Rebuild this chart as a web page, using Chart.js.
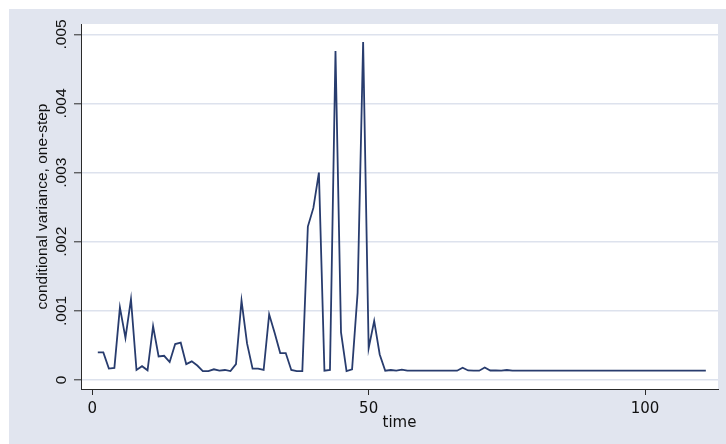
<!DOCTYPE html>
<html>
<head>
<meta charset="utf-8">
<title>Variância condicional</title>
<script src="https://cdn.jsdelivr.net/npm/chart.js@4/dist/chart.umd.min.js"></script>
<style>
    html, body { margin: 0; padding: 0; background: #ffffff; }
    #painel { width: 726px; height: 444px; }
</style>
</head>
<body>
<div id="painel"><canvas id="graficoVariancia" width="726" height="444"></canvas></div>
<script>
// --- DADOS ---
const TEMPO_INICIAL = 1;
const VARIANCIA = [
    .000400, .000400, .000165, .000175, .001050, .000610, .001170, .000145, .000200, .000140,
    .000780, .000340, .000350, .000260, .000520, .000540, .000230, .000270, .000210, .000130,
    .000130, .000155, .000135, .000145, .000130, .000230, .001150, .000530, .000165, .000165,
    .000145, .000950, .000680, .000390, .000390, .000145, .000130, .000130, .002220, .002490,
    .003000, .000135, .000145, .004760, .000690, .000130, .000155, .001260, .004890, .000460,
    .000855, .000370, .000135, .000145, .000135, .000150, .000135, .000135, .000135, .000135,
    .000135, .000135, .000135, .000135, .000135, .000135, .000178, .000138, .000135, .000135,
    .000180, .000138, .000140, .000135, .000145, .000135, .000135, .000135, .000135, .000135,
    .000135, .000135, .000135, .000135, .000135, .000135, .000135, .000135, .000135, .000135,
    .000135, .000135, .000135, .000135, .000135, .000135, .000135, .000135, .000135, .000135,
    .000135, .000135, .000135, .000135, .000135, .000135, .000135, .000135, .000135, .000135,
    .000135
];
const TICKS_X = [0, 50, 100];
const TICKS_Y = [0, .001, .002, .003, .004, .005];
const ROTULOS_Y = ['0', '.001', '.002', '.003', '.004', '.005'];
const TITULO_X = 'time';
const TITULO_Y = 'conditional variance, one-step';

// --- CORES E FONTES ---
const COR_FUNDO = '#e1e5ef';
const COR_LINHA = '#283c6e';
const COR_GRADE = '#dde2ed';
const COR_EIXO = '#2a2a2a';
const COR_TEXTO = '#111111';
const FONTE_Y = 'Liberation Sans, Arial, sans-serif';
const FONTE_X = 'DejaVu Sans, sans-serif'; // mais larga, parecida com o texto esticado do original

// fundo estilo Stata: moldura cinza-azulada e área de plotagem branca
const pluginFundo = {
    id: 'fundo',
    beforeDraw(chart) {
        const { ctx, chartArea } = chart;
        ctx.save();
        ctx.fillStyle = '#ffffff';
        ctx.fillRect(0, 0, chart.width, chart.height);
        ctx.fillStyle = COR_FUNDO;
        ctx.fillRect(9, 9, chart.width - 9, chart.height - 9);
        ctx.fillStyle = '#ffffff';
        ctx.fillRect(chartArea.left, chartArea.top, chartArea.right - chartArea.left, chartArea.bottom - chartArea.top);
        ctx.restore();
    }
};

function renderizarGrafico() {
    const pontos = VARIANCIA.map((v, i) => ({ x: TEMPO_INICIAL + i, y: v }));
    const ctx = document.getElementById('graficoVariancia').getContext('2d');

    new Chart(ctx, {
        type: 'line',
        data: {
            datasets: [{
                data: pontos,
                borderColor: COR_LINHA,
                borderWidth: 1.8,
                pointRadius: 0,
                tension: 0,
                fill: false
            }]
        },
        options: {
            responsive: false,
            animation: false,
            devicePixelRatio: 1,
            layout: { padding: { top: 24, right: 8, left: 0, bottom: 0 } },
            plugins: {
                legend: { display: false },
                tooltip: { enabled: false }
            },
            scales: {
                x: {
                    type: 'linear',
                    min: -2.04,
                    max: 113.2,
                    afterBuildTicks: s => { s.ticks = TICKS_X.map(v => ({ value: v })); },
                    afterFit: s => { s.height = 55; },
                    ticks: {
                        color: COR_TEXTO,
                        font: { family: FONTE_X, size: 15 },
                        padding: 5,
                        maxRotation: 0,
                        callback: v => String(v)
                    },
                    grid: {
                        drawOnChartArea: false,
                        drawTicks: true,
                        tickLength: 6,
                        tickColor: COR_EIXO,
                        tickWidth: 1
                    },
                    border: { display: true, color: COR_EIXO, width: 1 },
                    title: {
                        display: true,
                        text: TITULO_X,
                        color: COR_TEXTO,
                        font: { family: FONTE_X, size: 15 },
                        padding: { top: 0, bottom: 12 }
                    }
                },
                y: {
                    min: -0.00013,
                    max: 0.00515,
                    afterBuildTicks: s => { s.ticks = TICKS_Y.map(v => ({ value: v })); },
                    afterFit: s => { s.width = 81; },
                    ticks: {
                        color: COR_TEXTO,
                        font: { family: FONTE_Y, size: 15.5 },
                        minRotation: 90,
                        maxRotation: 90,
                        crossAlign: 'center',
                        padding: -3,
                        callback: (v, i) => ROTULOS_Y[i]
                    },
                    grid: {
                        color: COR_GRADE,
                        lineWidth: 1.6,
                        tickLength: 7,
                        tickColor: COR_EIXO,
                        tickWidth: 1
                    },
                    border: { display: true, color: COR_EIXO, width: 1 },
                    title: {
                        display: true,
                        text: TITULO_Y,
                        color: COR_TEXTO,
                        font: { family: FONTE_Y, size: 15.5 },
                        padding: { top: 33, bottom: 0 }
                    }
                }
            }
        },
        plugins: [pluginFundo]
    });
}

document.addEventListener('DOMContentLoaded', renderizarGrafico);
</script>
</body>
</html>
